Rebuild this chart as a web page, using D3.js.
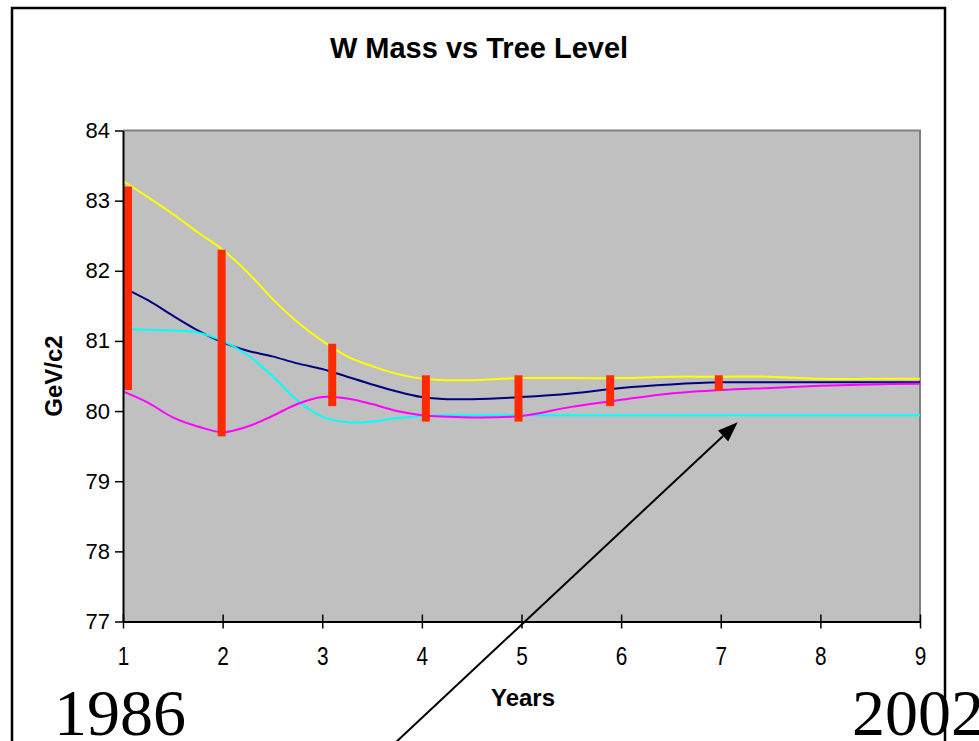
<!DOCTYPE html>
<html>
<head>
<meta charset="utf-8">
<script src="https://cdn.jsdelivr.net/npm/d3@7"></script>
<style>
  html, body { margin: 0; padding: 0; background: #fff; }
  svg { display: block; }
</style>
</head>
<body>
<svg id="chart" width="979" height="741"></svg>
<script>
// Sample positions along the time axis (years since start, 1..9)
const years = [1, 1.25, 1.5, 1.75, 2, 2.25, 2.5, 2.75, 3, 3.25, 3.5, 3.75, 4, 4.25, 4.5,
               5, 5.5, 6, 6.5, 7, 7.5, 8, 8.5, 9];

// Tree-level W mass predictions (GeV/c2)
const upperValues = [83.28, 83.05, 82.81, 82.55, 82.3, 81.98, 81.6, 81.27, 81.0, 80.78, 80.64, 80.53, 80.46, 80.44, 80.44,
                     80.47, 80.47, 80.47, 80.49, 80.49, 80.49, 80.46, 80.46, 80.46];
const centralValues = [81.76, 81.58, 81.36, 81.15, 80.98, 80.86, 80.78, 80.68, 80.6, 80.49, 80.38, 80.28, 80.2, 80.17, 80.17,
                       80.2, 80.25, 80.33, 80.38, 80.41, 80.41, 80.41, 80.41, 80.41];
const treeValues = [81.17, 81.16, 81.15, 81.12, 81.0, 80.8, 80.5, 80.15, 79.92, 79.84, 79.85, 79.9, 79.93, 79.94, 79.94,
                    79.94, 79.94, 79.94, 79.94, 79.94, 79.94, 79.94, 79.94, 79.94];
const lowerValues = [80.28, 80.12, 79.91, 79.78, 79.7, 79.78, 79.93, 80.1, 80.2, 80.18, 80.1, 80.0, 79.94, 79.92, 79.91,
                     79.93, 80.06, 80.16, 80.25, 80.3, 80.33, 80.36, 80.38, 80.39];

// Measured ranges (vertical bars)
const barYears = [1.05, 1.99, 3.1, 4.04, 4.97, 5.89, 6.98];
const barHigh  = [83.2, 82.3, 80.96, 80.51, 80.51, 80.51, 80.51];
const barLow   = [80.3, 79.64, 80.07, 79.85, 79.85, 80.07, 80.29];

// Axis ticks
const xTicks = [1, 2, 3, 4, 5, 6, 7, 8, 9];
const yTicks = [77, 78, 79, 80, 81, 82, 83, 84];

// Annotation arrow (data units): from below the axis up to the tree-level line
const arrowFrom = [3.74, 75.28];
const arrowTo = [7.17, 79.84];

const svg = d3.select("#chart");
const W = 979, H = 741;

const x = d3.scaleLinear().domain([1, 9]).range([123, 920]);
const y = d3.scaleLinear().domain([77, 84]).range([621.5, 130.5]);

// Plot background
svg.append("rect")
  .attr("x", x(1)).attr("y", y(84))
  .attr("width", x(9) - x(1)).attr("height", y(77) - y(84))
  .attr("fill", "#c0c0c0");

// Grey frame on top and right of plot area
svg.append("path")
  .attr("d", `M${x(1)},${y(84)}H${x(9)}V${y(77)}`)
  .attr("fill", "none").attr("stroke", "#808080").attr("stroke-width", 2);

// Title
svg.append("text")
  .attr("x", 479).attr("y", 58)
  .attr("text-anchor", "middle")
  .attr("font-family", "Liberation Sans, Arial, sans-serif")
  .attr("font-weight", "bold")
  .attr("font-size", 29)
  .text("W Mass vs Tree Level");

// Series lines
const line = d3.line()
  .x((d, i) => x(years[i]))
  .y(d => y(d))
  .curve(d3.curveCatmullRom.alpha(0.5));

const series = [
  { values: upperValues, color: "#ffff00" },
  { values: centralValues, color: "#000080" },
  { values: treeValues, color: "#00ffff" },
  { values: lowerValues, color: "#ff00ff" }
];

svg.append("g").selectAll("path")
  .data(series)
  .join("path")
  .attr("d", s => line(s.values))
  .attr("fill", "none")
  .attr("stroke", s => s.color)
  .attr("stroke-width", 2);

// Measurement bars
svg.append("g").selectAll("rect")
  .data(barYears)
  .join("rect")
  .attr("x", (d) => x(d) - 4)
  .attr("width", 8)
  .attr("y", (d, i) => y(barHigh[i]))
  .attr("height", (d, i) => y(barLow[i]) - y(barHigh[i]))
  .attr("fill", "#ff2a00");

// Y axis
const yAxis = d3.axisLeft(y).tickValues(yTicks).tickSize(8).tickSizeOuter(0).tickPadding(5)
  .tickFormat(d3.format("d"));
const gy = svg.append("g").attr("transform", `translate(${x(1)},0)`).call(yAxis);
gy.select(".domain").attr("stroke", "#000").attr("stroke-width", 2);
gy.selectAll(".tick line").attr("stroke", "#000").attr("stroke-width", 1.5);
gy.selectAll(".tick text")
  .attr("font-family", "Liberation Sans, Arial, sans-serif")
  .attr("font-size", 22)
  .attr("fill", "#000");

// X axis with crossing ticks
const xAxis = d3.axisBottom(x).tickValues(xTicks).tickSize(7).tickSizeOuter(0).tickPadding(0)
  .tickFormat(d3.format("d"));
const gx = svg.append("g").attr("transform", `translate(0,${y(77)})`).call(xAxis);
gx.select(".domain").attr("stroke", "#000").attr("stroke-width", 2);
gx.selectAll(".tick line").attr("y1", -7).attr("stroke", "#000").attr("stroke-width", 1.5);
gx.selectAll(".tick text")
  .attr("y", 44)
  .attr("dy", null)
  .attr("transform", "scale(0.8,1)")
  .attr("font-family", "Liberation Sans, Arial, sans-serif")
  .attr("font-size", 26)
  .attr("fill", "#000");

// Axis titles
svg.append("text")
  .attr("transform", `translate(62,${(y(77) + y(84)) / 2}) rotate(-90)`)
  .attr("text-anchor", "middle")
  .attr("font-family", "Liberation Sans, Arial, sans-serif")
  .attr("font-weight", "bold")
  .attr("font-size", 24)
  .text("GeV/c2");

svg.append("text")
  .attr("x", 523).attr("y", 706)
  .attr("text-anchor", "middle")
  .attr("font-family", "Liberation Sans, Arial, sans-serif")
  .attr("font-weight", "bold")
  .attr("font-size", 24)
  .text("Years");

// Period labels
svg.append("text")
  .attr("x", 54).attr("y", 735)
  .attr("font-family", "Liberation Serif, Times New Roman, serif")
  .attr("font-size", 66)
  .text("1986");
svg.append("text")
  .attr("x", 852).attr("y", 735)
  .attr("font-family", "Liberation Serif, Times New Roman, serif")
  .attr("font-size", 66)
  .text("2002");

// Outer frame
svg.append("path")
  .attr("d", `M12,${H + 2}V8H945V${H + 2}`)
  .attr("fill", "none").attr("stroke", "#000").attr("stroke-width", 2.5);

// Annotation arrow
const ax0 = x(arrowFrom[0]), ay0 = y(arrowFrom[1]);
const ax1 = x(arrowTo[0]), ay1 = y(arrowTo[1]);
const ang = Math.atan2(ay1 - ay0, ax1 - ax0);
const headLen = 20, headHalf = 7.5;
const bx = ax1 - headLen * Math.cos(ang), by = ay1 - headLen * Math.sin(ang);
svg.append("line")
  .attr("x1", ax0).attr("y1", ay0).attr("x2", bx).attr("y2", by)
  .attr("stroke", "#000").attr("stroke-width", 2);
svg.append("polygon")
  .attr("points", [
    [ax1, ay1],
    [bx + headHalf * Math.sin(ang), by - headHalf * Math.cos(ang)],
    [bx - headHalf * Math.sin(ang), by + headHalf * Math.cos(ang)]
  ].map(p => p.join(",")).join(" "))
  .attr("fill", "#000");
</script>
</body>
</html>
